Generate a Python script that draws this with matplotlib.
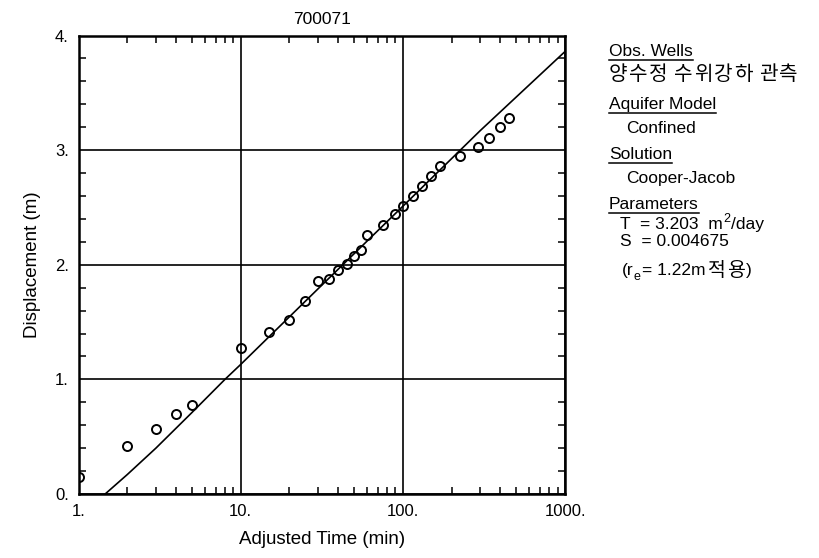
import matplotlib
matplotlib.use("Agg")
import matplotlib.pyplot as plt
from matplotlib.ticker import FixedLocator, NullFormatter, LogLocator
from matplotlib.lines import Line2D

plt.rcParams['font.family'] = ['Liberation Sans', 'Noto Sans CJK KR', 'DejaVu Sans']

# observed data (time in min, displacement in m)
obs_time = [1.0, 2, 3, 4, 5, 10, 15, 20, 25, 30, 35, 40, 45, 50, 55, 60, 75, 90,
            100, 115, 132, 150, 170, 225, 290, 340, 395, 450]
obs_disp = [0.15, 0.42, 0.57, 0.70, 0.78, 1.27, 1.41, 1.52, 1.68, 1.86, 1.88, 1.95,
            2.01, 2.08, 2.13, 2.26, 2.35, 2.44, 2.51, 2.60, 2.69, 2.77, 2.86, 2.95,
            3.03, 3.11, 3.20, 3.28]

# fitted Cooper-Jacob curve
fit_time = [1.46, 2.0, 3.0, 5.0, 8.0, 10.0, 30.0, 100.0, 300.0, 1000.0]
fit_disp = [0.0, 0.17, 0.40, 0.71, 1.00, 1.13, 1.79, 2.51, 3.17, 3.86]

x_ticks = [1, 10, 100, 1000]
x_labels = ["1.", "10.", "100.", "1000."]
y_ticks = [0, 1, 2, 3, 4]
y_labels = ["0.", "1.", "2.", "3.", "4."]

title = "700071"
xlabel = "Adjusted Time (min)"
ylabel = "Displacement (m)"

fig = plt.figure(figsize=(8.19, 5.58), dpi=100)
W, H = 819, 558
ax = fig.add_axes([78.5 / W, 1 - 494 / H, (565 - 78.5) / W, (494 - 35.5) / H])

ax.set_xscale('log')
ax.set_xlim(1, 1000)
ax.set_ylim(0, 4)

ax.plot(fit_time, fit_disp, color='black', lw=1.2, zorder=3)
ax.plot(obs_time, obs_disp, linestyle='none', marker='o', markersize=6.5,
        markerfacecolor='none', markeredgecolor='black', markeredgewidth=1.4,
        zorder=4, clip_on=True)

ax.set_xticks(x_ticks)
ax.set_xticklabels(x_labels)
ax.xaxis.set_minor_locator(LogLocator(base=10, subs=range(2, 10)))
ax.xaxis.set_minor_formatter(NullFormatter())
ax.set_yticks(y_ticks)
ax.set_yticklabels(y_labels)
ax.yaxis.set_minor_locator(FixedLocator([v / 5 for v in range(0, 21)]))

ax.grid(True, which='major', color='black', lw=1.2)
ax.tick_params(which='both', direction='in', top=True, right=True, colors='black',
               labelsize=12)
ax.tick_params(which='major', length=0, pad=7)
ax.tick_params(which='minor', length=5, width=1.1)
for s in ax.spines.values():
    s.set_linewidth(1.8)
    s.set_color('black')

ax.set_title(title, fontsize=12.5, pad=8)
ax.set_xlabel(xlabel, fontsize=13.5, labelpad=9)
ax.set_ylabel(ylabel, fontsize=13.5, labelpad=10)

# right-side annotation panel
fs = 12.5
fig.canvas.draw()
renderer = fig.canvas.get_renderer()


def put(xpx, ypx, s, size=fs, underline=False):
    t = fig.text(xpx / W, 1 - ypx / H, s, fontsize=size, va='baseline', ha='left')
    bb = t.get_window_extent(renderer)
    if underline:
        yl = 1 - (ypx + 3.5) / H
        fig.add_artist(Line2D([bb.x0 / W, bb.x1 / W], [yl, yl], color='black', lw=1.1))
    return bb.x1  # right edge in px


def put_hangul(xpx, ypx, s, size=14.5, adv=20.0, space=5.0):
    x = xpx
    for ch in s:
        if ch == ' ':
            x += space
            continue
        fig.text(x / W, 1 - ypx / H, ch, fontsize=size, va='baseline', ha='left')
        x += adv
    return x


x0 = 609
xi = 626
put(x0, 56, "Obs. Wells", underline=True)
put_hangul(x0, 80, "양수정 수위강하 관측")
put(x0, 109, "Aquifer Model", underline=True)
put(xi, 133, "Confined")
put(x0, 159, "Solution", underline=True)
put(xi, 183, "Cooper-Jacob")
put(x0, 209, "Parameters", underline=True)
xr = put(xi - 6, 229, "T  = 3.203  m")
xr = put(xr + 1, 222, "2", size=9)
put(xr, 229, "/day")
put(xi - 6, 246, "S  = 0.004675")
xr = put(xi - 4, 275, "(r")
xr = put(xr, 280, "e", size=9)
xr = put(xr + 1, 275, "= 1.22m")
xr = put_hangul(xr + 3, 276, "적용", size=14, adv=19)
put(xr, 275, ")")

fig.savefig("out.png", dpi=100)
